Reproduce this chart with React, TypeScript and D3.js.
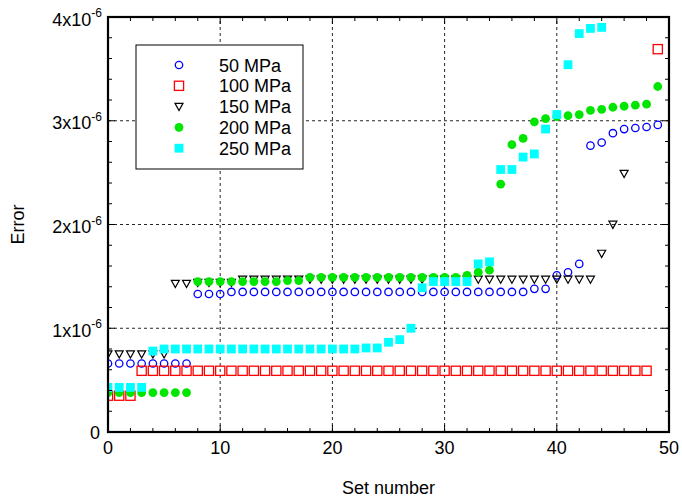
import React from "react";
import * as d3 from "d3";

// Error per parameter set, in units of 1e-6, indexed by set number (0-based)
const setsMPa50 = [
  0.66, 0.66, 0.66, 0.66, 0.66, 0.66, 0.66, 0.66,
  1.33, 1.33, 1.33,
  1.35, 1.35, 1.35, 1.35, 1.35, 1.35, 1.35, 1.35, 1.35, 1.35,
  1.35, 1.35, 1.35, 1.35, 1.35, 1.35, 1.35, 1.35, 1.35, 1.35,
  1.35, 1.35, 1.35, 1.35, 1.35, 1.35, 1.35,
  1.38, 1.38,
  1.51, 1.54, 1.62,
  2.76, 2.79, 2.88, 2.92, 2.93, 2.94, 2.96,
];
const setsMPa100 = [
  0.35, 0.35, 0.35,
  0.59, 0.59, 0.59, 0.59, 0.59, 0.59, 0.59, 0.59, 0.59, 0.59,
  0.59, 0.59, 0.59, 0.59, 0.59, 0.59, 0.59, 0.59, 0.59, 0.59,
  0.59, 0.59, 0.59, 0.59, 0.59, 0.59, 0.59, 0.59, 0.59, 0.59,
  0.59, 0.59, 0.59, 0.59, 0.59, 0.59, 0.59, 0.59, 0.59, 0.59,
  0.59, 0.59, 0.59, 0.59, 0.59, 0.59,
  3.69,
];
const setsMPa150 = [
  0.75, 0.75, 0.75, 0.75, 0.75, 0.75,
  1.43, 1.43,
  1.44, 1.44, 1.44, 1.44,
  1.47, 1.47, 1.47, 1.47, 1.47, 1.47, 1.47, 1.47, 1.47, 1.47,
  1.47, 1.47, 1.47, 1.47, 1.47, 1.47, 1.47, 1.47, 1.47, 1.47,
  1.47, 1.47, 1.47, 1.47, 1.47, 1.47, 1.47, 1.47, 1.47, 1.47,
  1.47, 1.47,
  1.72, 2.0, 2.49,
];
const setsMPa200 = [
  0.38, 0.38, 0.38, 0.38, 0.38, 0.38, 0.38, 0.38,
  1.45, 1.45, 1.45, 1.45, 1.45, 1.45, 1.45, 1.45, 1.46, 1.46,
  1.49, 1.49, 1.49, 1.49, 1.49, 1.49, 1.49, 1.49, 1.49, 1.49,
  1.49, 1.49, 1.49, 1.49,
  1.51, 1.54, 1.56,
  2.39, 2.77, 2.83, 2.99, 3.02, 3.04, 3.05, 3.06, 3.1, 3.11,
  3.13, 3.14, 3.15, 3.16, 3.33,
];
const setsMPa250 = [
  0.43, 0.43, 0.43, 0.43,
  0.78,
  0.8, 0.8, 0.8, 0.8, 0.8, 0.8, 0.8, 0.8, 0.8,
  0.8, 0.8, 0.8, 0.8, 0.8, 0.8, 0.8, 0.8, 0.8,
  0.81, 0.81,
  0.865, 0.89, 1.0,
  1.39, 1.45, 1.45, 1.45, 1.45,
  1.62, 1.64,
  2.53, 2.53, 2.65, 2.68, 2.92, 3.06, 3.54, 3.84, 3.89, 3.9,
];

const seriesNames = ["50 MPa", "100 MPa", "150 MPa", "200 MPa", "250 MPa"];
const seriesValues = [setsMPa50, setsMPa100, setsMPa150, setsMPa200, setsMPa250];
const xTicks = [0, 10, 20, 30, 40, 50];
const yTicks = [0, 1, 2, 3, 4];
const yTickExponent = "-6";

const W = 682;
const H = 499;
const FONT = "'Liberation Sans', Arial, Helvetica, sans-serif";

type Shape = "circle" | "square" | "triangle" | "dot" | "block";
const shapes: Shape[] = ["circle", "square", "triangle", "dot", "block"];
const colors = ["#0000ff", "#ff0000", "#000000", "#00e600", "#00ffff"];

function Marker({ shape, color, x, y }: { shape: Shape; color: string; x: number; y: number }) {
  switch (shape) {
    case "circle":
      return <circle cx={x} cy={y} r={3.7} fill="none" stroke={color} strokeWidth={1.3} />;
    case "square":
      return <rect x={x - 4.6} y={y - 4.6} width={9.2} height={9.2} fill="none" stroke={color} strokeWidth={1.3} />;
    case "triangle":
      return (
        <path
          d={`M${x - 4},${y - 3.3}L${x + 4},${y - 3.3}L${x},${y + 3.9}Z`}
          fill="none"
          stroke={color}
          strokeWidth={1.2}
          strokeLinejoin="miter"
        />
      );
    case "dot":
      return <circle cx={x} cy={y} r={4.4} fill={color} />;
    case "block":
      return <rect x={x - 4.4} y={y - 4.4} width={8.8} height={8.8} fill={color} />;
  }
}

export default function App() {
  const x = d3.scaleLinear().domain([0, 50]).range([108, 669]);
  const y = d3.scaleLinear().domain([0, 4]).range([432, 17]);
  const [x0, x1] = x.range();
  const [y0, y1] = y.range();

  const xMinor = d3.range(0, 50.001, 2).filter((v) => !xTicks.includes(v));
  const yMinor = d3.range(0, 4.001, 0.2).filter((v) => Math.abs(v - Math.round(v)) > 1e-6);

  const legendX = 136;
  const legendY = 45;
  const legendRow = 20.8;

  return (
    <svg
      width={W}
      height={H}
      viewBox={`0 0 ${W} ${H}`}
      style={{ position: "absolute", left: 0, top: 0, background: "#fff" }}
      fontFamily={FONT}
    >
      <defs>
        <clipPath id="plot-area">
          <rect x={x0} y={y1} width={x1 - x0} height={y0 - y1} />
        </clipPath>
      </defs>
      <rect x={0} y={0} width={W} height={H} fill="#fff" />

      {/* dashed grid at major ticks */}
      <g stroke="#000" strokeWidth={1} strokeDasharray="3,3" opacity={0.85}>
        {xTicks.slice(1, -1).map((t) => (
          <line key={`gx${t}`} x1={x(t)} x2={x(t)} y1={y0} y2={y1} />
        ))}
        {yTicks.slice(1, -1).map((t) => (
          <line key={`gy${t}`} x1={x0} x2={x1} y1={y(t)} y2={y(t)} />
        ))}
      </g>

      {/* data markers */}
      <g clipPath="url(#plot-area)">
        {seriesValues.map((vals, si) => (
          <g key={seriesNames[si]}>
            {vals.map((v, i) => (
              <Marker key={i} shape={shapes[si]} color={colors[si]} x={x(i)} y={y(v)} />
            ))}
          </g>
        ))}
      </g>

      {/* inward ticks on all four sides */}
      <g stroke="#000" strokeWidth={1}>
        {xTicks.map((t) => (
          <g key={`xt${t}`}>
            <line x1={x(t)} x2={x(t)} y1={y0} y2={y0 - 7} />
            <line x1={x(t)} x2={x(t)} y1={y1} y2={y1 + 7} />
          </g>
        ))}
        {xMinor.map((t) => (
          <g key={`xm${t}`}>
            <line x1={x(t)} x2={x(t)} y1={y0} y2={y0 - 4} />
            <line x1={x(t)} x2={x(t)} y1={y1} y2={y1 + 4} />
          </g>
        ))}
        {yTicks.map((t) => (
          <g key={`yt${t}`}>
            <line x1={x0} x2={x0 + 7} y1={y(t)} y2={y(t)} />
            <line x1={x1} x2={x1 - 7} y1={y(t)} y2={y(t)} />
          </g>
        ))}
        {yMinor.map((t) => (
          <g key={`ym${t.toFixed(1)}`}>
            <line x1={x0} x2={x0 + 4} y1={y(t)} y2={y(t)} />
            <line x1={x1} x2={x1 - 4} y1={y(t)} y2={y(t)} />
          </g>
        ))}
      </g>

      {/* frame */}
      <rect x={x0} y={y1} width={x1 - x0} height={y0 - y1} fill="none" stroke="#000" strokeWidth={2.2} />

      {/* x tick labels */}
      <g fontSize={18} fill="#000" textAnchor="middle">
        {xTicks.map((t) => (
          <text key={`xl${t}`} x={x(t)} y={y0 + 22}>
            {t}
          </text>
        ))}
      </g>

      {/* y tick labels with powers of ten */}
      <g fontSize={18} fill="#000" textAnchor="end">
        {yTicks.map((t) =>
          t === 0 ? (
            <text key={`yl${t}`} x={100} y={y(t) + 7}>
              0
            </text>
          ) : (
            <text key={`yl${t}`} x={102} y={y(t) + 8.5}>
              {`${t}x10`}
              <tspan fontSize={12} dy={-8.5}>
                {yTickExponent}
              </tspan>
            </text>
          )
        )}
      </g>

      {/* axis titles */}
      <text x={(x0 + x1) / 2} y={494} fontSize={18} textAnchor="middle" fill="#000">
        Set number
      </text>
      <text transform={`translate(24, ${(y0 + y1) / 2}) rotate(-90)`} fontSize={18} textAnchor="middle" fill="#000">
        Error
      </text>

      {/* legend */}
      <g>
        <rect x={legendX} y={legendY} width={167} height={124} fill="#fff" stroke="#000" strokeWidth={1} />
        {seriesNames.map((name, si) => {
          const cy = legendY + 20 + si * legendRow;
          return (
            <g key={`lg${name}`}>
              <Marker shape={shapes[si]} color={colors[si]} x={179} y={cy} />
              <text x={219} y={cy + 6.5} fontSize={18} fill="#000">
                {name}
              </text>
            </g>
          );
        })}
      </g>
    </svg>
  );
}
